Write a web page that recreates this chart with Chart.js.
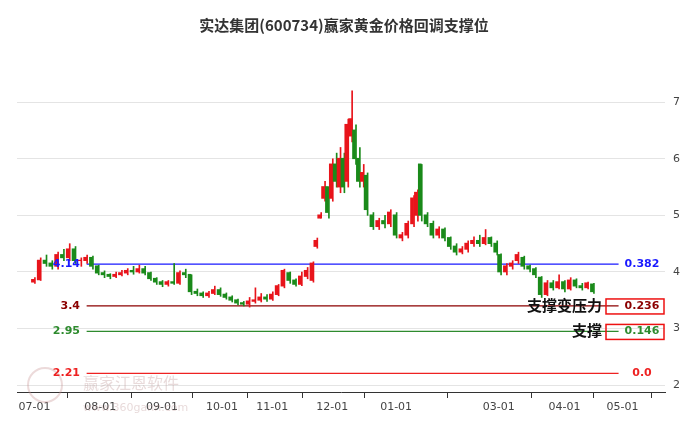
<!DOCTYPE html>
<html><head><meta charset="utf-8">
<script src="https://cdn.jsdelivr.net/npm/chart.js@4"></script>
<style>body{margin:0;background:#fff}#wrap{width:689px;height:427px}</style>
</head><body><div id="wrap"><canvas id="c"></canvas></div>
<script>
// day index (from 07-01), open, close, high, low
const days = [0,3,6,9,12,15,18,21,24,27,30,33,36,39,42,45,48,51,54,57,60,63,66,69,72,75,78,81,84,87,90,93,96,99,102,105,108,111,114,117,120,123,126,129,132,135,138,141,144,146,148,150,152,154,156,158,160,162,164,166,168,170,172,175,178,181,184,187,190,193,196,198,200,203,206,209,212,215,218,221,224,227,230,233,236,239,241,244,247,250,253,256,259,262,265,268,271,274,277,280,283,286,289];
const opens = [3.82,3.86,4.2,4.15,4.1,4.3,4.25,4.4,4.2,4.2,4.25,4.1,3.98,3.95,3.92,3.95,3.98,4.02,4.0,4.05,3.98,3.88,3.82,3.78,3.82,3.8,3.98,3.95,3.65,3.62,3.58,3.62,3.68,3.6,3.55,3.5,3.45,3.43,3.48,3.5,3.55,3.52,3.6,3.75,3.98,3.85,3.78,3.92,3.85,4.45,4.95,5.3,5.5,5.3,5.9,5.5,6.0,5.6,6.4,6.5,6.0,5.6,5.7,5.0,4.8,4.9,4.85,5.0,4.6,4.65,4.85,5.0,5.9,5.0,4.85,4.65,4.75,4.6,4.45,4.35,4.4,4.5,4.55,4.5,4.6,4.5,4.3,4.0,4.1,4.2,4.25,4.1,4.05,3.9,3.6,3.8,3.72,3.82,3.7,3.85,3.75,3.72,3.78];
const closes = [3.86,4.2,4.15,4.1,4.3,4.25,4.4,4.2,4.2,4.25,4.1,3.98,3.95,3.92,3.95,3.98,4.02,4.0,4.05,3.98,3.88,3.82,3.78,3.82,3.8,3.98,3.95,3.65,3.62,3.58,3.62,3.68,3.6,3.55,3.5,3.45,3.43,3.48,3.5,3.55,3.52,3.6,3.75,4.02,3.85,3.78,3.92,4.02,4.15,4.55,5.0,5.5,5.05,5.9,5.6,6.0,5.5,6.6,6.7,6.0,5.6,5.75,5.1,4.8,4.9,4.85,5.05,4.65,4.65,4.85,5.3,5.4,5.0,4.85,4.65,4.75,4.6,4.45,4.35,4.4,4.5,4.55,4.5,4.6,4.5,4.35,4.0,4.1,4.15,4.3,4.1,4.05,3.95,3.6,3.8,3.72,3.82,3.7,3.85,3.75,3.72,3.8,3.65];
const highs = [3.9,4.25,4.3,4.2,4.35,4.4,4.5,4.45,4.25,4.3,4.28,4.12,4.02,3.97,4.0,4.03,4.06,4.1,4.12,4.1,4.0,3.9,3.85,3.85,4.15,4.02,4.05,3.95,3.7,3.65,3.66,3.75,3.72,3.63,3.58,3.52,3.48,3.55,3.72,3.62,3.6,3.65,3.78,4.05,4.0,3.88,4.0,4.08,4.18,4.6,5.05,5.6,5.5,6.0,6.1,6.2,6.1,6.7,7.2,6.6,6.2,5.9,5.75,5.05,4.95,5.0,5.1,5.05,4.7,4.9,5.35,5.45,5.9,5.05,4.9,4.8,4.78,4.62,4.5,4.45,4.55,4.62,4.65,4.75,4.62,4.55,4.32,4.15,4.2,4.35,4.28,4.12,4.08,3.92,3.85,3.85,3.95,3.85,3.9,3.88,3.8,3.82,3.8];
const lows = [3.8,3.85,4.1,4.05,4.05,4.2,4.2,4.15,4.1,4.15,4.05,3.95,3.9,3.88,3.9,3.93,3.95,3.96,3.98,3.95,3.85,3.78,3.74,3.75,3.78,3.78,3.9,3.6,3.58,3.55,3.55,3.6,3.57,3.52,3.47,3.42,3.4,3.38,3.45,3.47,3.48,3.5,3.58,3.72,3.8,3.75,3.76,3.88,3.82,4.42,4.95,5.25,4.95,5.25,5.5,5.4,5.4,5.5,6.3,5.9,5.5,5.5,5.0,4.75,4.75,4.78,4.8,4.6,4.55,4.6,4.8,4.9,4.9,4.8,4.6,4.6,4.55,4.4,4.3,4.32,4.35,4.45,4.45,4.48,4.45,4.3,3.95,3.95,4.05,4.15,4.05,4.0,3.9,3.55,3.58,3.68,3.7,3.65,3.68,3.72,3.68,3.7,3.62];

const levels = [4.14, 3.4, 2.95, 2.21];
const levelLabels = ['4.14', '3.4', '2.95', '2.21'];
const ratioLabels = ['0.382', '0.236', '0.146', '0.0'];
const levelColors = ['#1a1aff', '#8b0000', '#2e8b2e', '#ee2222'];
const levelStart = 27, levelEnd = 302;

const tickDays = [0, 34, 66, 97, 123, 154, 187, 240, 274, 304];
const tickLabels = ['07-01','08-01','09-01','10-01','11-01','12-01','01-01','03-01','04-01','05-01'];

const RED = '#e8141b', GREEN = '#1a8a1a';
const colors = days.map((d, i) => closes[i] >= opens[i] ? RED : GREEN);

const datasets = [];
levels.forEach((v, i) => {
  datasets.push({
    type: 'line',
    data: [{x: levelStart, y: v}, {x: levelEnd, y: v}],
    borderColor: levelColors[i], borderWidth: 1.3, pointRadius: 0, order: 2
  });
});
datasets.push({
  type: 'bar',
  data: days.map((d, i) => ({x: d, y: [lows[i], highs[i]]})),
  backgroundColor: colors, barThickness: 1, order: 1
});
datasets.push({
  type: 'bar',
  data: days.map((d, i) => ({x: d, y: [Math.min(opens[i], closes[i]), Math.max(opens[i], closes[i]) + 0.01]})),
  backgroundColor: colors, barThickness: 3, order: 0
});

const extras = {
  id: 'extras',
  afterDraw(chart) {
    const ctx = chart.ctx, ys = chart.scales.y;
    ctx.save();
    ctx.fillStyle = '#333';
    ctx.font = 'bold 15px "Noto Sans CJK SC"';
    ctx.textAlign = 'center'; ctx.textBaseline = 'middle';
    ctx.fillText('实达集团(600734)赢家黄金价格回调支撑位', 344, 25);
    // watermark
    ctx.fillStyle = 'rgba(190,150,150,0.35)';
    ctx.font = '16px "Noto Sans CJK SC"';
    ctx.textAlign = 'left';
    ctx.fillText('赢家江恩软件', 83, 383);
    ctx.font = '11px "DejaVu Sans"';
    ctx.fillText('www.360gann.com', 83, 408);
    ctx.beginPath(); ctx.arc(45, 385, 17, 0, Math.PI * 2);
    ctx.strokeStyle = 'rgba(200,150,150,0.35)'; ctx.lineWidth = 2; ctx.stroke();
    levels.forEach((v, i) => {
      const y = ys.getPixelForValue(v);
      ctx.font = 'bold 11px "DejaVu Sans"';
      ctx.textAlign = 'right';
      ctx.fillStyle = levelColors[i];
      ctx.fillText(levelLabels[i], 80, y);
      ctx.textAlign = 'center';
      ctx.fillText(ratioLabels[i], 642, y);
      if (i === 1 || i === 2) {
        ctx.strokeStyle = '#ee1111'; ctx.lineWidth = 1.5;
        ctx.strokeRect(606, y - 7, 58, 15);
      }
    });
    ctx.fillStyle = '#111';
    ctx.font = 'bold 15px "Noto Sans CJK SC"';
    ctx.textAlign = 'right';
    ctx.fillText('支撑变压力', 602, ys.getPixelForValue(levels[1]) - 1);
    ctx.fillText('支撑', 602, ys.getPixelForValue(levels[2]) - 1);
    ctx.restore();
  }
};

new Chart(document.getElementById('c'), {
  data: {datasets},
  plugins: [extras],
  options: {
    responsive: true, maintainAspectRatio: false, animation: false,
    layout: {padding: {top: 75, left: 17}},
    plugins: {legend: {display: false}, tooltip: {enabled: false}},
    scales: {
      x: {
        type: 'linear', min: -9, max: 326, offset: false,
        afterBuildTicks(s) { s.ticks = tickDays.map(v => ({value: v})); },
        afterFit(s) { s.height = 35; },
        ticks: {autoSkip: false, maxRotation: 0, color: '#444', font: {size: 11, family: 'DejaVu Sans'},
          callback(v) { return tickLabels[tickDays.indexOf(v)]; }},
        grid: {drawOnChartArea: false, drawTicks: true, tickLength: 6, color: '#333'},
        border: {color: '#333'}
      },
      y: {
        position: 'right', min: 1.88, max: 7.48,
        afterBuildTicks(s) { s.ticks = [2,3,4,5,6,7].map(v => ({value: v})); },
        afterFit(s) { s.width = 24; },
        ticks: {color: '#444', font: {size: 11, family: 'DejaVu Sans'}, padding: 8},
        grid: {color: '#e4e4e4', drawTicks: false},
        border: {display: false}
      }
    }
  }
});
</script></body></html>
